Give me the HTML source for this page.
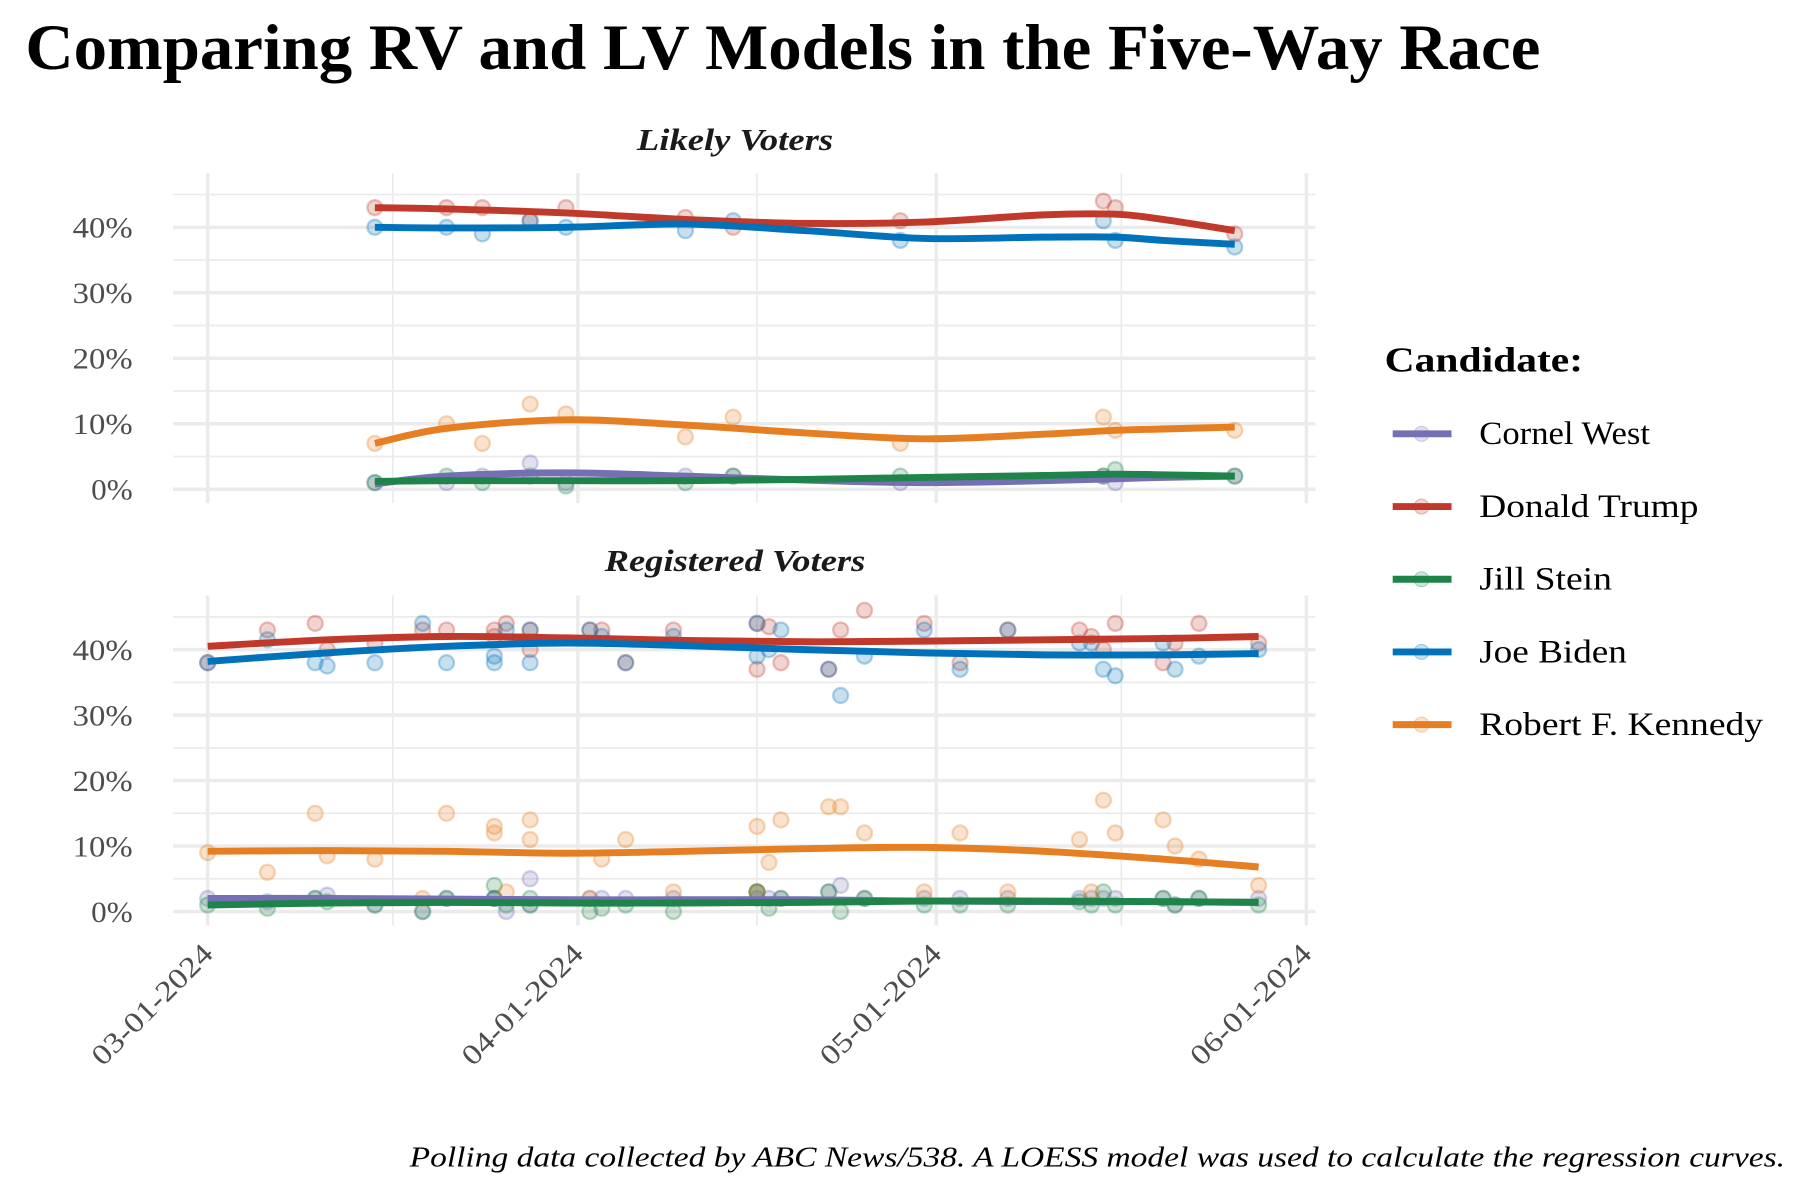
<!DOCTYPE html>
<html><head><meta charset="utf-8"><style>
html,body{margin:0;padding:0;background:#fff}
svg{display:block}
text{font-family:"Liberation Serif","DejaVu Serif",serif}
</style></head><body>
<svg id="chart" width="1800" height="1200" viewBox="0 0 1560 1040" xmlns="http://www.w3.org/2000/svg">
<rect width="1560" height="1040" fill="#fff"/>
<text x="22" y="60" font-size="56" font-weight="bold" fill="#000" textLength="1313" lengthAdjust="spacingAndGlyphs">Comparing RV and LV Models in the Five-Way Race</text>
<g id="panels"></g>
<g id="legend">
<text x="1200" y="322" font-size="30" font-weight="bold" textLength="172" lengthAdjust="spacingAndGlyphs">Candidate:</text>
</g>
<text x="355" y="1011" font-size="25" font-style="italic" textLength="1192" lengthAdjust="spacingAndGlyphs">Polling data collected by ABC News/538. A LOESS model was used to calculate the regression curves.</text>
</svg>
<script>
// ---- data ----
const candidates = ["Cornel West","Donald Trump","Jill Stein","Joe Biden","Robert F. Kennedy"];
const legendWidths = [148,190,115,128,246];
const colors = ["#7570b3","#c0392b","#1e8449","#0072bb","#e67e22"];
const yTicks = [0,10,20,30,40];
const xTickLabels = ["03-01-2024","04-01-2024","05-01-2024","06-01-2024"];
const xTickDays = [0,31,61,92];

// Likely voters polls (day offset from 03-01-2024)
const lvDays   = [14,20,23,27,30,40,44,58,75,76,86];
const lvWest   = [1,1,2,4,1,2,2,1,2,1,2];
const lvTrump  = [43,43,43,41,43,41.5,40,41,44,43,39];
const lvStein  = [1,2,1,2,0.5,1,2,2,2,3,2];
const lvBiden  = [40,40,39,41,40,39.5,41,38,41,38,37];
const lvRFK    = [7,10,7,13,11.5,8,11,7,11,9,9];
// LV fitted curves
const lvCurveDays  = [14,20,30,40,50,60,70,76,80,86];
const lvCurveWest  = [0.8,2,2.5,2,1.4,1,1.3,1.6,1.8,2];
const lvCurveTrump = [43,42.8,42.2,41.2,40.6,40.8,41.9,42,41.2,39.5];
const lvCurveStein = [1.2,1.3,1.3,1.3,1.5,1.8,2.1,2.3,2.2,2];
const lvCurveBiden = [40,39.9,40,40.5,39.5,38.3,38.5,38.5,38,37.4];
const lvCurveRFK   = [7,9.3,10.6,9.8,8.6,7.7,8.4,9,9.2,9.5];

// Registered voters polls
const rvDays  = [0,5,9,10,14,18,20,24,24,25,27,27,32,33,35,39,46,46,47,48,52,53,55,60,63,67,73,74,75,76,80,81,83,88];
const rvWest  = [2,1.5,2,2.5,1,0,2,2,2,0,5,1,2,2,2,2,3,2,2,2,3,4,2,2,2,2,2,2,2,2,2,1,2,2];
const rvTrump = [38,43,44,40,41,43,43,43,42,44,40,43,43,43,38,43,37,44,43.5,38,37,43,46,44,38,43,43,42,40,44,38,41,44,41];
const rvStein = [1,0.5,2,1.5,1,0,2,4,2,1,2,1,0,0.5,1,0,3,3,0.5,2,3,0,2,1,1,1,1.5,1,3,1,2,1,2,1];
const rvBiden = [38,41.5,38,37.5,38,44,38,38,39,43,43,38,43,42,38,42,39,44,40,43,37,33,39,43,37,43,41,41,37,36,41,37,39,40];
const rvRFK   = [9,6,15,8.5,8,2,15,13,12,3,14,11,2,8,11,3,13,3,7.5,14,16,16,12,3,12,3,11,3,17,12,14,10,8,4];
// RV fitted curves
const rvCurveDays  = [0,10,20,30,40,50,60,70,80,88];
const rvCurveWest  = [2,2,1.9,1.8,1.8,1.8,1.6,1.5,1.5,1.4];
const rvCurveTrump = [40.5,41.5,42,41.8,41.4,41.2,41.3,41.5,41.7,42];
const rvCurveStein = [1,1.3,1.4,1.3,1.3,1.4,1.6,1.6,1.5,1.4];
const rvCurveBiden = [38.2,39.5,40.5,41,40.6,40,39.5,39.2,39.2,39.4];
const rvCurveRFK   = [9.2,9.3,9.2,8.9,9.2,9.6,9.8,9.2,8.0,6.8];

const NS="http://www.w3.org/2000/svg";
function mk(tag,attrs,parent){const e=document.createElementNS(NS,tag);for(const k in attrs)e.setAttribute(k,attrs[k]);parent.appendChild(e);return e;}
const x = d => 180 + d*10.35;
const X0=150, X1=1140;
function smoothPath(pts){
  let d="M"+pts[0][0]+","+pts[0][1];
  for(let i=0;i<pts.length-1;i++){
    const p0=pts[i-1]||pts[i],p1=pts[i],p2=pts[i+1],p3=pts[i+2]||p2;
    const c1=[p1[0]+(p2[0]-p0[0])/6,p1[1]+(p2[1]-p0[1])/6];
    const c2=[p2[0]-(p3[0]-p1[0])/6,p2[1]-(p3[1]-p1[1])/6];
    d+=` C${c1[0]},${c1[1]} ${c2[0]},${c2[1]} ${p2[0]},${p2[1]}`;
  }
  return d;
}
const panelsG=document.getElementById('panels');
function panel(name,title,titleW,titleY,zeroY,top,bottom,days,series,cDays,curves,showX){
  const y = v => zeroY - v*5.675;
  const g=mk('g',{},panelsG);
  
  
  const t=mk('text',{x:637-titleW/2,y:titleY,'font-size':27,'font-weight':'bold','font-style':'italic',fill:'#1a1a1a',textLength:titleW,lengthAdjust:'spacingAndGlyphs'},g);
  t.textContent=title;
  
  
  for(let v=5;v<=45;v+=10){const l=mk('line',{x1:X0,x2:X1,y1:y(v),y2:y(v),stroke:'#ebebeb','stroke-width':1.5},g);
    
    }
  [15.5,46,76.5].forEach(d=>{const l=mk('line',{x1:x(d),x2:x(d),y1:top,y2:bottom,stroke:'#ebebeb','stroke-width':1.5},g);
    
    });
  yTicks.forEach(v=>{const l=mk('line',{x1:X0,x2:X1,y1:y(v),y2:y(v),stroke:'#ebebeb','stroke-width':3},g);
    
    
    const w = v===0 ? 36 : 52;
    const tx=mk('text',{x:115-w,y:y(v)+9,'font-size':26,fill:'#4d4d4d',textLength:w,lengthAdjust:'spacingAndGlyphs'},g);
    tx.textContent=v+'%';
    
    });
  xTickDays.forEach((d,i)=>{const l=mk('line',{x1:x(d),x2:x(d),y1:top,y2:bottom,stroke:'#ebebeb','stroke-width':3},g);
    
    
    if(showX){const ax=x(d)+6, ay=bottom+26;
      const tx=mk('text',{x:ax-137,y:ay,'font-size':25,fill:'#4d4d4d',textLength:137,lengthAdjust:'spacingAndGlyphs',transform:`rotate(-45 ${ax} ${ay})`},g);
      tx.textContent=xTickLabels[i];
      
      }});
  series.forEach((vals,ci)=>{vals.forEach((v,i)=>{const c=mk('circle',{cx:x(days[i]),cy:y(v),r:6.5,fill:colors[ci],'fill-opacity':0.22,stroke:colors[ci],'stroke-opacity':0.3,'stroke-width':2},g);
    
    });});
  curves.forEach((vals,ci)=>{const p=mk('path',{d:smoothPath(vals.map((v,i)=>[x(cDays[i]),y(v)])),fill:'none',stroke:colors[ci],'stroke-width':6,'stroke-linecap':'butt'},g);
    
    });
}
panel('likely-voters-panel','Likely Voters',170,130,424,150,436,lvDays,[lvWest,lvTrump,lvStein,lvBiden,lvRFK],lvCurveDays,[lvCurveWest,lvCurveTrump,lvCurveStein,lvCurveBiden,lvCurveRFK],false);
panel('registered-voters-panel','Registered Voters',226,495,790,516,802,rvDays,[rvWest,rvTrump,rvStein,rvBiden,rvRFK],rvCurveDays,[rvCurveWest,rvCurveTrump,rvCurveStein,rvCurveBiden,rvCurveRFK],true);

const lg=document.getElementById('legend');
candidates.forEach((c,i)=>{const yy=376+i*63;
  const g=mk('g',{},lg);
  
  
  mk('line',{x1:1207,x2:1258,y1:yy,y2:yy,stroke:colors[i],'stroke-width':6},g);
  mk('circle',{cx:1232,cy:yy,r:6.5,fill:colors[i],'fill-opacity':0.22,stroke:colors[i],'stroke-opacity':0.3},g);
  const t=mk('text',{x:1282,y:yy+9,'font-size':28,fill:'#000',textLength:legendWidths[i],lengthAdjust:'spacingAndGlyphs'},g);
  t.textContent=c;});
</script>
</body></html>
